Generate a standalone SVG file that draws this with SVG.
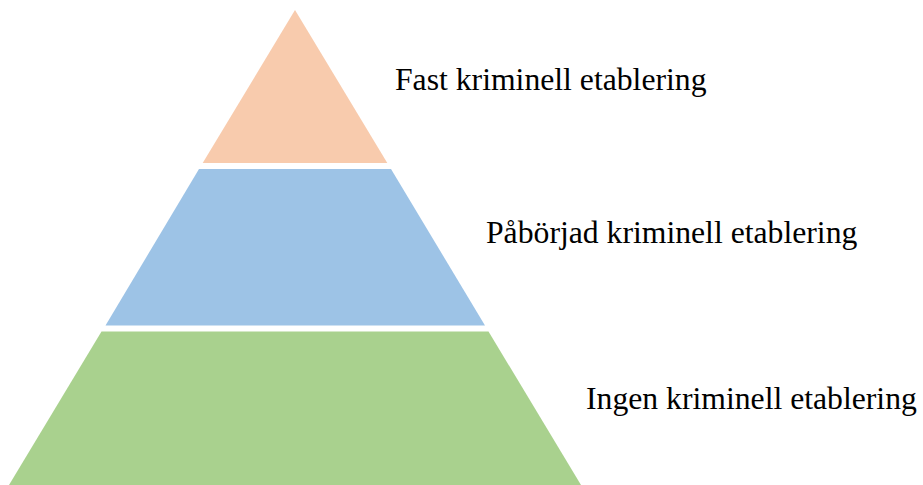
<svg xmlns="http://www.w3.org/2000/svg" width="923" height="485" viewBox="0 0 923 485">
<style>
text{font-family:"Liberation Serif","Times New Roman",serif;font-size:31.7px;fill:#000}
</style>
<rect width="923" height="485" fill="#fff"/>
<g id="tier-top"><polygon points="295,10 387.3,163 202.7,163" fill="#F8CBAD"/><text x="395" y="89.5">Fast kriminell etablering</text></g>
<g id="tier-middle"><polygon points="199,169 391,169 485,325.5 105.5,325.5" fill="#9DC3E6"/><text x="486" y="243">Påbörjad kriminell etablering</text></g>
<g id="tier-bottom"><polygon points="101.5,331.5 488.5,331.5 581,485 9,485" fill="#A9D18E"/><text x="586" y="409">Ingen kriminell etablering</text></g>
<g id="connectors"/>
</svg>
